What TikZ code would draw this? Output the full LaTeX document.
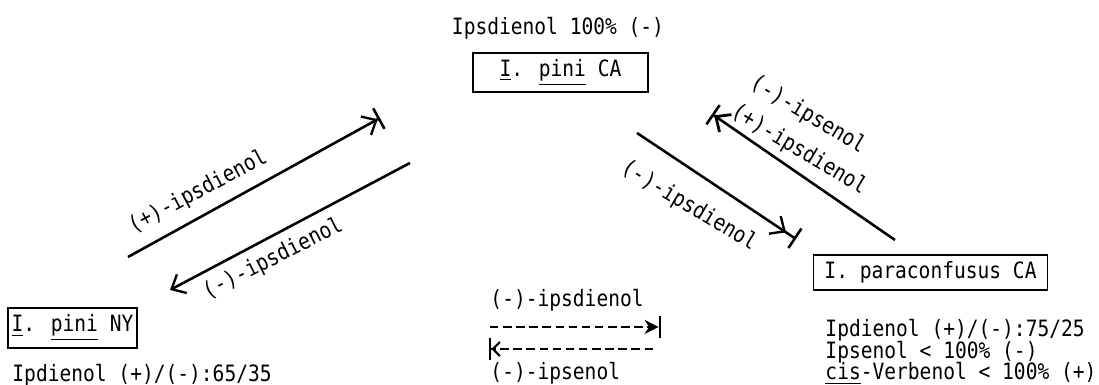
\documentclass[tikz,border=0pt]{standalone}
\usepackage{fontspec}
\usepackage{tikz}
\usetikzlibrary{arrows.meta}
\newfontfamily\typed[FakeStretch=0.87]{DejaVu Sans Mono}
\newcommand\typedtext{\typed\fontsize{9.6}{9.1}\selectfont\lineskiplimit=-10pt\relax}
\begin{document}
\begin{tikzpicture}[scale=0.15]
					\tikzstyle{every node}+=[inner sep=0pt, font=\typedtext]
					\tikzstyle{taxon}=[draw, black, line width=0.8pt]
					\tikzstyle{flow}=[black, line width=1.1pt]
					\tikzstyle{trace}=[black, line width=1pt, dash pattern=on 3.6pt off 2pt]
					\useasboundingbox (0,0) rectangle (109.9,-38.5);
					% taxa
					\node [taxon, minimum width=74.4pt, minimum height=16.6pt] (pinica) at (56.05,-7.25) {\underline{I}. \underline{pini} CA};
					\node (pinicainfo) at (55.8,-2.8) {Ipsdienol 100\% (-)};
					\node [taxon, minimum width=54.8pt, minimum height=17pt] (pininy) at (7.25,-32.8) {\underline{I}. \underline{pini} NY};
					\node [anchor=west] (pininyinfo) at (1.2,-37.5) {Ipdienol (+)/(-):65/35};
					\node [taxon, minimum width=99.9pt, minimum height=14.9pt] (paraca) at (93.05,-27.25) {I. paraconfusus CA};
					\node [anchor=west, align=left] (paracainfo) at (82.5,-35.2) {Ipdienol (+)/(-):75/25\\Ipsenol < 100\% (-)\\\underline{cis}-Verbenol < 100\% (+)};
					% left pair
					\coordinate (nyout) at (12.8,-25.7);
					\coordinate (cain) at (38.0,-11.8);
					\coordinate (caout) at (41.0,-16.3);
					\coordinate (nyin) at (17.0,-29.0);
					\draw [flow, -{Straight Barb[length=5pt,width=9pt,line width=1pt] Bar[width=10pt,line width=1.1pt]}] (nyout) -- (cain);
					\draw [flow, -{Straight Barb[length=5pt,width=9pt,line width=1pt]}] (caout) -- (nyin);
					\node [rotate=28] (plusnyca) at (19.8,-19.2) {(+)-ipsdienol};
					\node [rotate=27] (minuscany) at (27.3,-25.9) {(-)-ipsdienol};
					% right pair
					\coordinate (paraout) at (89.5,-24.0);
					\coordinate (paracain) at (71.2,-11.4);
					\coordinate (capout) at (63.7,-13.3);
					\coordinate (parain) at (79.6,-23.9);
					\draw [flow, -{Straight Barb[length=5pt,width=9pt,line width=1.2pt] Bar[width=10pt,line width=1.1pt]}] (paraout) -- (paracain);
					\draw [flow, -{Straight Barb[length=5pt,width=9pt,line width=1pt,sep=4pt] Bar[width=10pt,line width=1.1pt]}] (capout) -- (parain);
					\node [rotate=-31] (minusparaca) at (80.8,-11.5) {(-)-ipsenol};
					\node [rotate=-31] (plusparaca) at (79.9,-15.0) {(+)-ipsdienol};
					\node [rotate=-31] (minuscapara) at (68.9,-20.6) {(-)-ipsdienol};
					% key
					\node [anchor=west] (keytop) at (49.0,-30.0) {(-)-ipsdienol};
					\node [anchor=west] (keybottom) at (49.0,-37.3) {(-)-ipsenol};
					\coordinate (keyas) at (49.0,-32.7);
					\coordinate (keyae) at (66.1,-32.7);
					\coordinate (keybs) at (65.3,-34.9);
					\coordinate (keybe) at (48.9,-34.9);
					\draw [trace, -{Stealth[length=6pt,width=6pt] Bar[width=9pt,line width=1pt]}] (keyas) -- (keyae);
					\draw [trace, -{Straight Barb[length=3pt,width=6pt,line width=0.9pt] Bar[width=9pt,line width=1pt]}] (keybs) -- (keybe);
				\end{tikzpicture}
\end{document}
